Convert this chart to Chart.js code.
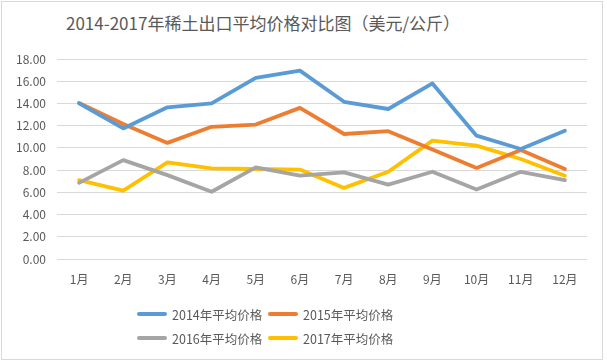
<!DOCTYPE html>
<html>
<head>
<meta charset="utf-8">
<script src="https://cdn.jsdelivr.net/npm/chart.js@4/dist/chart.umd.min.js"></script>
<style>
  body { margin:0; background:#fff; }
  #wrap { position:relative; width:607px; height:362px; background:#fff; font-family:"Noto Sans CJK SC","Noto Sans",sans-serif; }
  #frame { position:absolute; left:1px; top:1px; width:600px; height:357px; border:1px solid #d9d9d9; }
  #title { position:absolute; left:66px; top:11px; font-size:17px; color:#595959; white-space:nowrap; line-height:24px; }
  #c { position:absolute; left:0; top:0; }
  #legend { position:absolute; left:137px; top:302px; width:270px; display:flex; flex-wrap:wrap; font-size:12.5px; color:#595959; }
  .item { display:flex; align-items:center; width:131px; height:24px; white-space:nowrap; }
  .item span.sw { display:inline-block; width:30px; height:4px; border-radius:2px; margin-right:5px; }
</style>
</head>
<body>
<div id="wrap">
  <div id="frame"></div>
  <div id="title">2014-2017年稀土出口平均价格对比图（美元/公斤）</div>
  <canvas id="c" width="607" height="362"></canvas>
  <div id="legend"></div>
</div>
<script>
// data
var months = ['1月','2月','3月','4月','5月','6月','7月','8月','9月','10月','11月','12月']
var p2014 = [14.0, 11.75, 13.65, 14.0, 16.3, 16.95, 14.15, 13.5, 15.8, 11.1, 9.9, 11.55]
var p2015 = [14.05, 12.15, 10.45, 11.9, 12.1, 13.6, 11.25, 11.5, 9.85, 8.2, 9.8, 8.1]
var p2016 = [6.85, 8.9, 7.55, 6.05, 8.25, 7.5, 7.8, 6.7, 7.85, 6.25, 7.85, 7.1]
var p2017 = [7.1, 6.15, 8.7, 8.15, 8.1, 8.05, 6.4, 7.85, 10.65, 10.2, 9.0, 7.5]
var names = ['2014年平均价格','2015年平均价格','2016年平均价格','2017年平均价格']
var colors = ['#5b9bd5','#ed7d31','#a5a5a5','#ffc000']
var yTicks = [0,2,4,6,8,10,12,14,16,18]

var series = [p2014, p2015, p2016, p2017]
var ds = []
for (var i = 0; i < series.length; i++) {
    ds.push({
        label: names[i],
        data: series[i],
        borderColor: colors[i],
        backgroundColor: colors[i],
        borderWidth: 3.8,
        pointRadius: 0,
        tension: 0,
        borderJoinStyle: 'round',
        borderCapStyle: 'round'
    })
}

// html legend, built from the chart's datasets
var htmlLegend = {
    id: 'htmlLegend',
    afterUpdate(chart) {
        var box = document.getElementById('legend')
        box.innerHTML = ''
        chart.data.datasets.forEach(function (d) {
            var it = document.createElement('div')
            it.className = 'item'
            var sw = document.createElement('span')
            sw.className = 'sw'
            sw.style.background = d.borderColor
            it.appendChild(sw)
            it.appendChild(document.createTextNode(d.label))
            box.appendChild(it)
        })
    }
}

var tickFont = { family: '"Noto Sans CJK SC","Noto Sans",sans-serif', size: 12 }

var chart = new Chart(document.getElementById('c').getContext('2d'), {
    type: 'line',
    plugins: [htmlLegend],
    data: { labels: months, datasets: ds },
    options: {
        responsive: false,
        animation: false,
        layout: { padding: { left: 0, right: 20, top: 59, bottom: 73 } },
        plugins: {
            legend: { display: false },
            title: { display: false },
            tooltip: { enabled: false }
        },
        scales: {
            x: {
                offset: true,
                grid: { display: false },
                border: { display: false },
                ticks: { color: '#595959', font: tickFont, padding: 5, maxRotation: 0, autoSkip: false },
                afterFit: function (s) { s.height = 30 }
            },
            y: {
                min: 0,
                max: 18,
                afterBuildTicks: function (s) { s.ticks = yTicks.map(function (v) { return { value: v } }) },
                grid: { color: '#d9d9d9', lineWidth: 1, drawTicks: false },
                border: { display: false },
                ticks: {
                    color: '#595959',
                    font: tickFont,
                    padding: 11,
                    callback: function (v) { return v.toFixed(2) }
                },
                afterFit: function (s) { s.width = 57 }
            }
        }
    }
})
</script>
</body>
</html>
